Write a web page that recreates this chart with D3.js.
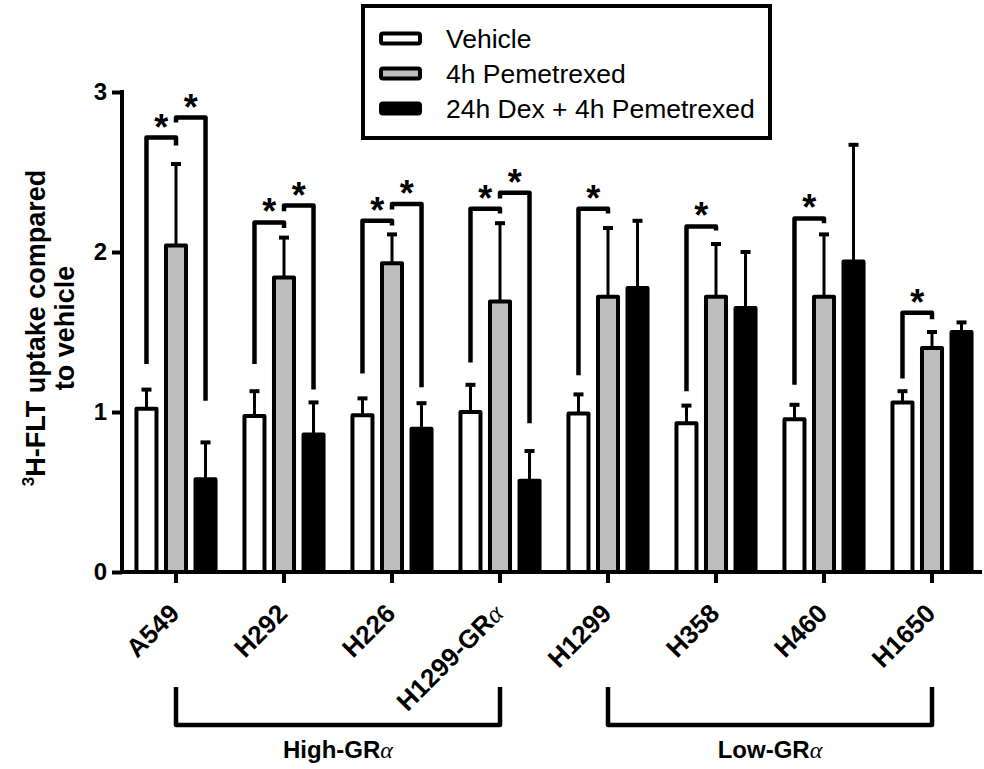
<!DOCTYPE html>
<html>
<head>
<meta charset="utf-8">
<script src="https://cdn.jsdelivr.net/npm/d3@7"></script>
<style>
  html, body { margin: 0; padding: 0; background: #fff; }
  svg { display: block; }
  text { font-family: "Liberation Sans", Arial, Helvetica, sans-serif; fill: #000; }
</style>
</head>
<body>
<svg id="chart" width="984" height="769"></svg>
<script>
// ---------------- DATA ----------------
const categories = ["A549", "H292", "H226", "H1299-GRα", "H1299", "H358", "H460", "H1650"];
const series = ["Vehicle", "4h Pemetrexed", "24h Dex + 4h Pemetrexed"];
const seriesFill = ["#ffffff", "#bdbdbd", "#000000"];

const vehicleMean = [1.02, 0.975, 0.98, 1.00, 0.99, 0.93, 0.955, 1.06];
const vehicleErr  = [0.12, 0.155, 0.105, 0.17, 0.12, 0.11, 0.09, 0.07];
const pemMean     = [2.04, 1.84, 1.93, 1.69, 1.72, 1.72, 1.72, 1.40];
const pemErr      = [0.51, 0.25, 0.18, 0.49, 0.43, 0.33, 0.39, 0.10];
const dexMean     = [0.58, 0.86, 0.895, 0.57, 1.775, 1.65, 1.94, 1.50];
const dexErr      = [0.23, 0.20, 0.16, 0.186, 0.42, 0.35, 0.73, 0.06];

const yTicks = [0, 1, 2, 3];

// significance brackets: category, from series index, to series index,
// level (data units), left end and right end (data units)
const sigCat   = ["A549", "A549", "H292", "H292", "H226", "H226", "H1299-GRα", "H1299-GRα", "H1299", "H358", "H460", "H1650"];
const sigFrom  = [0, 1, 0, 1, 0, 1, 0, 1, 0, 0, 0, 0];
const sigTo    = [1, 2, 1, 2, 1, 2, 1, 2, 1, 1, 1, 1];
const sigLevel = [2.715, 2.84, 2.185, 2.29, 2.195, 2.30, 2.27, 2.37, 2.27, 2.16, 2.21, 1.62];
const sigLeft  = [1.30, 2.81, 1.30, 2.255, 1.24, 2.265, 1.31, 2.335, 1.23, 1.13, 1.17, 1.21];
const sigRight = [2.665, 1.07, 2.15, 1.14, 2.165, 1.155, 2.24, 0.93, 2.24, 2.135, 2.18, 1.58];

const groupLabels = ["High-GR", "Low-GR"];
const groupFrom = ["A549", "H1299"];
const groupTo = ["H1299-GRα", "H1650"];

// ---------------- CHART ----------------
const svg = d3.select("#chart");
svg.append("rect").attr("width", 984).attr("height", 769).attr("fill", "#fff");

const axisX = 122, y0px = 572, y3px = 92;
const y = d3.scaleLinear().domain([0, 3]).range([y0px, y3px]);
const x0 = d3.scaleBand().domain(categories).range([axisX, axisX + 8 * 108]).paddingInner(0).paddingOuter(0);
const x1 = d3.scaleBand().domain(d3.range(series.length)).range([0, x0.bandwidth()]).paddingInner(0.322).paddingOuter(0.49);
const cx = (cat, s) => x0(cat) + x1(s) + x1.bandwidth() / 2;

const means = [vehicleMean, pemMean, dexMean];
const errs = [vehicleErr, pemErr, dexErr];
const bars = [];
categories.forEach((c, i) => series.forEach((s, j) => bars.push({ cat: c, s: j, v: means[j][i], e: errs[j][i] })));

// error bars
const eg = svg.append("g");
eg.selectAll("line.stem").data(bars).join("line")
  .attr("x1", d => cx(d.cat, d.s)).attr("x2", d => cx(d.cat, d.s))
  .attr("y1", d => y(d.v)).attr("y2", d => y(d.v + d.e))
  .attr("stroke", "#000").attr("stroke-width", 3);
eg.selectAll("line.cap").data(bars).join("line")
  .attr("x1", d => cx(d.cat, d.s) - 5).attr("x2", d => cx(d.cat, d.s) + 5)
  .attr("y1", d => y(d.v + d.e)).attr("y2", d => y(d.v + d.e))
  .attr("stroke", "#000").attr("stroke-width", 4);

// bars
svg.append("g").selectAll("rect").data(bars).join("rect")
  .attr("x", d => x0(d.cat) + x1(d.s))
  .attr("width", x1.bandwidth())
  .attr("y", d => y(d.v))
  .attr("height", d => y(0) - y(d.v))
  .attr("fill", d => seriesFill[d.s])
  .attr("stroke", "#000").attr("stroke-width", 4).attr("stroke-linejoin", "round");

// y axis
const yAxis = d3.axisLeft(y).tickValues(yTicks).tickSize(10).tickPadding(5).tickFormat(d3.format("d"));
const ya = svg.append("g").attr("transform", `translate(${axisX},0)`).call(yAxis);
ya.select(".domain").remove();
ya.selectAll(".tick line").attr("stroke", "#000").attr("stroke-width", 4);
ya.selectAll(".tick text").attr("font-size", 24).attr("font-weight", "bold")
  .attr("font-family", "Liberation Sans, Arial, sans-serif").attr("fill", "#000");
ya.append("line").attr("x1", 0).attr("x2", 0).attr("y1", y(3) - 2).attr("y2", y(0) + 2)
  .attr("stroke", "#000").attr("stroke-width", 4);

// x axis
const xa = svg.append("g");
xa.append("line").attr("x1", axisX - 2).attr("x2", 982).attr("y1", y(0)).attr("y2", y(0))
  .attr("stroke", "#000").attr("stroke-width", 4);
xa.selectAll("line.tk").data(categories).join("line")
  .attr("x1", d => x0(d) + x0.bandwidth() / 2).attr("x2", d => x0(d) + x0.bandwidth() / 2)
  .attr("y1", y(0)).attr("y2", y(0) + 11)
  .attr("stroke", "#000").attr("stroke-width", 4);
const xl = xa.selectAll("text.cat").data(categories).join("text")
  .attr("transform", d => `translate(${x0(d) + x0.bandwidth() / 2 + 5},615) rotate(-45)`)
  .attr("text-anchor", "end").attr("font-size", 26).attr("font-weight", "bold");
xl.each(function (d) {
  const t = d3.select(this);
  if (d.endsWith("α")) {
    t.append("tspan").text(d.slice(0, -1));
    t.append("tspan").attr("font-family", "Liberation Serif, serif").attr("font-weight", "normal").attr("font-style", "italic").text("α");
  } else t.text(d);
});

// y axis title
const yt = svg.append("text").attr("transform", `translate(45,${(y(0) + y(3)) / 2 - 4}) rotate(-90)`)
  .attr("text-anchor", "middle").attr("font-size", 27).attr("font-weight", "bold");
yt.append("tspan").attr("font-size", 17).attr("dy", -11).text("3");
yt.append("tspan").attr("dy", 11).text("H-FLT uptake compared");
svg.append("text").attr("transform", `translate(74,${(y(0) + y(3)) / 2 - 4}) rotate(-90)`)
  .attr("text-anchor", "middle").attr("font-size", 27).attr("font-weight", "bold").text("to vehicle");

// significance brackets
const sg = svg.append("g");
sigCat.forEach((c, i) => {
  const xl_ = cx(c, sigFrom[i]), xr = cx(c, sigTo[i]);
  sg.append("path")
    .attr("d", `M${xl_},${y(sigLeft[i])}L${xl_},${y(sigLevel[i])}L${xr},${y(sigLevel[i])}L${xr},${y(sigRight[i])}`)
    .attr("fill", "none").attr("stroke", "#000").attr("stroke-width", 4.5).attr("stroke-linejoin", "round");
  sg.append("text").attr("x", (xl_ + xr) / 2).attr("y", y(sigLevel[i]) + 2)
    .attr("text-anchor", "middle").attr("font-size", 36).attr("font-weight", "bold").text("*");
});

// group brackets
const gg = svg.append("g");
groupLabels.forEach((g, i) => {
  const a = x0(groupFrom[i]) + x0.bandwidth() / 2, b = x0(groupTo[i]) + x0.bandwidth() / 2;
  gg.append("path").attr("d", `M${a},687L${a},725L${b},725L${b},687`)
    .attr("fill", "none").attr("stroke", "#000").attr("stroke-width", 4.5).attr("stroke-linejoin", "round");
  const t = gg.append("text").attr("x", (a + b) / 2).attr("y", 758).attr("text-anchor", "middle")
    .attr("font-size", 24).attr("font-weight", "bold");
  t.append("tspan").text(g);
  t.append("tspan").attr("font-family", "Liberation Serif, serif").attr("font-weight", "normal").attr("font-style", "italic").text("α");
});

// legend
const lg = svg.append("g");
lg.append("rect").attr("x", 363).attr("y", 6).attr("width", 407).attr("height", 132)
  .attr("fill", "#fff").attr("stroke", "#000").attr("stroke-width", 4);
const rowY = [38.5, 73.5, 108.5];
series.forEach((s, i) => {
  lg.append("rect").attr("x", 381).attr("y", rowY[i] - 5).attr("width", 39).attr("height", 10)
    .attr("rx", 2).attr("fill", seriesFill[i]).attr("stroke", "#000").attr("stroke-width", 4).attr("stroke-linejoin", "round");
  lg.append("text").attr("x", 446).attr("y", rowY[i] + 9).attr("font-size", 26.5).text(s);
});
</script>
</body>
</html>
